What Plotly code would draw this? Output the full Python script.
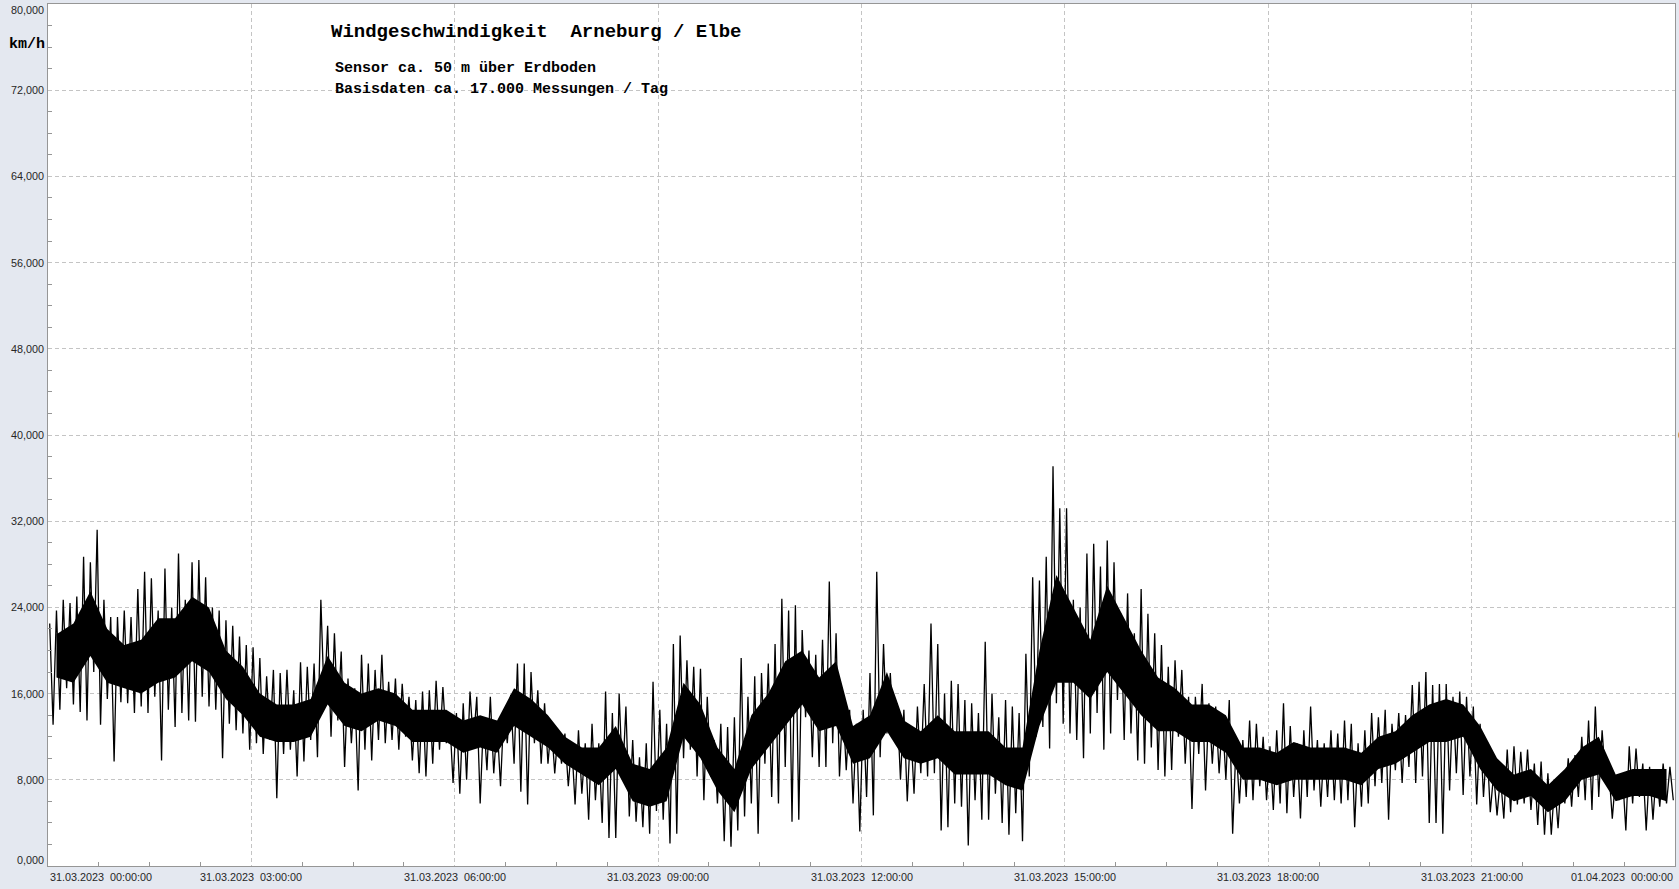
import pandas as pd
import plotly.graph_objects as go

# ---------------- data (km/h) ----------------
# upper / lower extremes of the wind-speed trace, one value per 6-minute bin,
# one row per hour (00:00 ... 23:00) of 31.03.2023
wind_high = [
    22.5, 23.7, 24.7, 24.4, 25.0, 28.7, 28.2, 31.2, 24.7, 23.1,
    23.1, 23.7, 23.1, 25.7, 27.3, 26.7, 23.7, 27.6, 24.0, 29.0,
    24.7, 28.2, 28.4, 26.8, 24.0, 23.7, 22.8, 22.3, 21.3, 20.5,
    20.3, 19.3, 17.6, 18.2, 17.9, 18.2, 16.3, 18.9, 18.5, 18.8,
    24.7, 22.3, 21.6, 19.9, 17.4, 16.5, 19.6, 18.8, 18.2, 19.6,
    17.1, 17.4, 16.9, 15.7, 15.4, 16.2, 16.3, 17.2, 16.6, 13.8,
    14.2, 15.1, 16.2, 15.7, 13.8, 15.7, 13.2, 14.5, 15.9, 18.8,
    18.8, 18.0, 16.3, 15.1, 13.2, 12.6, 12.3, 11.4, 12.6, 11.4,
    13.2, 11.4, 16.2, 14.2, 16.0, 14.8, 11.7, 10.1, 11.4, 17.1,
    14.5, 13.2, 20.6, 21.4, 19.1, 18.5, 18.3, 15.7, 11.7, 13.2,
    12.9, 13.8, 19.3, 15.7, 17.6, 17.9, 18.8, 20.6, 24.8, 23.7,
    24.2, 21.9, 20.0, 19.6, 21.0, 26.4, 21.6, 15.1, 14.5, 13.2,
    14.5, 17.9, 27.3, 20.6, 17.9, 15.1, 14.5, 12.9, 14.8, 16.9,
    22.5, 20.6, 16.0, 17.2, 16.9, 15.4, 15.1, 14.2, 20.8, 16.0,
    13.8, 15.4, 14.8, 14.2, 19.7, 26.8, 26.5, 28.7, 37.1, 33.2,
    33.2, 24.7, 24.0, 29.0, 29.9, 27.8, 30.2, 28.2, 23.4, 25.3,
    21.6, 25.7, 23.4, 21.6, 20.5, 18.5, 19.1, 18.2, 15.7, 15.7,
    16.9, 15.1, 14.8, 13.8, 15.4, 11.4, 11.7, 13.5, 13.2, 12.0,
    11.1, 12.6, 15.1, 13.0, 11.4, 12.6, 14.8, 11.7, 11.4, 12.6,
    12.3, 13.5, 13.2, 11.4, 12.6, 14.2, 13.8, 14.5, 13.2, 14.2,
    14.0, 16.8, 17.1, 18.0, 16.8, 16.9, 16.9, 15.7, 16.2, 15.7,
    14.8, 13.2, 11.4, 8.6, 8.3, 10.8, 11.1, 10.6, 10.8, 9.5,
    9.7, 8.6, 7.7, 8.6, 10.0, 10.3, 12.0, 13.5, 14.8, 12.6,
    8.9, 8.3, 8.6, 11.1, 10.9, 9.5, 9.2, 8.9, 9.5, 9.2,
]
wind_low = [
    13.1, 14.5, 16.5, 15.0, 14.3, 13.5, 18.0, 13.1, 15.5, 9.7,
    15.2, 15.1, 14.2, 14.8, 14.2, 15.7, 9.8, 14.5, 12.9, 14.2,
    13.5, 13.4, 15.7, 14.8, 14.5, 10.0, 13.2, 12.6, 12.3, 10.8,
    11.4, 10.4, 11.7, 6.3, 10.4, 10.8, 8.3, 9.7, 11.7, 10.1,
    15.1, 12.0, 13.5, 9.2, 11.4, 7.0, 10.8, 9.8, 11.7, 11.4,
    11.7, 10.8, 12.0, 9.8, 8.6, 8.3, 9.5, 10.8, 11.4, 7.7,
    6.7, 8.0, 11.4, 5.8, 8.9, 8.6, 7.4, 11.4, 9.5, 6.9,
    5.7, 11.4, 9.5, 9.5, 8.6, 9.5, 7.4, 5.7, 6.7, 4.3,
    6.1, 4.0, 2.6, 2.6, 8.0, 4.6, 4.1, 3.6, 3.0, 5.1,
    4.3, 2.1, 3.0, 10.0, 10.8, 8.3, 6.1, 8.3, 5.8, 2.3,
    1.8, 3.3, 4.6, 5.8, 3.0, 9.5, 6.4, 5.8, 9.2, 4.1,
    4.3, 13.8, 10.1, 9.2, 9.2, 11.4, 8.3, 8.9, 5.8, 3.2,
    6.4, 4.7, 10.1, 12.3, 11.7, 8.0, 6.0, 6.7, 8.6, 8.3,
    8.6, 3.3, 3.6, 5.8, 5.5, 1.9, 6.1, 4.3, 4.3, 6.7,
    4.0, 2.9, 4.9, 2.3, 8.3, 12.0, 12.9, 10.9, 15.1, 13.2,
    12.3, 11.7, 10.0, 12.3, 14.2, 10.8, 12.3, 15.4, 11.7, 12.3,
    9.8, 9.5, 11.0, 8.9, 8.3, 8.9, 12.0, 9.5, 5.3, 10.4,
    7.0, 9.5, 8.6, 8.0, 3.0, 5.8, 6.4, 6.1, 7.4, 6.1,
    5.2, 5.8, 4.9, 6.4, 4.4, 6.4, 7.0, 5.5, 6.4, 6.1,
    5.8, 6.1, 3.6, 5.5, 5.8, 7.4, 7.7, 4.3, 8.9, 7.7,
    9.2, 7.7, 8.3, 4.0, 4.0, 3.0, 7.0, 8.6, 6.6, 8.3,
    5.7, 6.4, 5.0, 4.7, 4.4, 5.0, 5.7, 5.8, 5.2, 3.8,
    2.9, 2.9, 3.5, 5.8, 5.5, 6.4, 6.1, 5.2, 6.4, 8.0,
    4.4, 6.1, 3.3, 5.8, 6.4, 3.3, 4.3, 5.5, 5.8, 6.1,
]
bin_start = "2023-03-31 00:00"
bin_minutes = 6

# dense core of the trace (where the measurements overlap to solid black),
# one value per 15-minute bin, one row per hour
core_top = [21.5, 22.5, 25.5, 22.0,  20.5, 21.0, 23.0, 23.0,
            25.0, 24.0, 20.0, 18.5,  16.0, 15.0, 15.0, 15.5,
            19.5, 17.0, 16.0, 16.5,  16.0, 14.5, 14.5, 14.5,
            13.5, 14.0, 13.5, 16.5,  15.5, 14.0, 12.0, 11.0,
            11.0, 13.0, 9.5, 9.0,    11.0, 17.0, 15.0, 11.0,
            9.0, 14.0, 16.0, 19.0,   20.0, 17.5, 19.0, 13.0,
            14.0, 18.0, 13.5, 12.5,  14.0, 12.5, 12.5, 12.5,
            11.0, 11.0, 20.0, 27.0,  24.0, 21.0, 26.0, 23.0,
            20.0, 17.5, 16.5, 15.0,  15.0, 14.0, 11.0, 11.0,
            10.5, 11.5, 11.0, 11.0,  11.0, 10.5, 12.0, 12.5,
            14.0, 15.0, 15.5, 15.0,  13.0, 10.0, 8.5, 9.0,
            7.5, 9.0, 11.0, 12.0,    8.5, 9.0, 9.0, 9.0]
core_bottom = [17.5, 17.0, 19.5, 17.0,  16.5, 16.0, 17.0, 17.5,
               19.0, 18.0, 15.5, 14.0,  12.0, 11.5, 11.5, 12.0,
               15.0, 13.0, 12.5, 13.5,  13.0, 11.5, 11.5, 11.5,
               10.5, 11.0, 10.5, 13.0,  12.0, 11.0, 9.5, 8.5,
               7.5, 9.0, 6.0, 5.5,      6.0, 12.0, 10.0, 7.0,
               5.0, 9.0, 11.0, 13.0,    15.0, 12.5, 13.0, 9.5,
               10.0, 12.5, 10.0, 9.5,   10.0, 8.5, 8.5, 8.5,
               7.5, 7.0, 13.0, 17.0,    17.0, 15.5, 18.0, 16.0,
               14.0, 12.5, 12.5, 11.5,  11.5, 10.5, 8.0, 8.0,
               7.5, 8.0, 8.0, 8.0,      8.0, 7.5, 9.0, 9.5,
               10.5, 11.5, 11.5, 12.0,  9.0, 7.0, 6.0, 6.5,
               5.0, 6.0, 8.0, 8.5,      6.0, 6.5, 6.5, 6.0]
core_minutes = 15

x_tick_times = ["2023-03-31 00:00", "2023-03-31 03:00", "2023-03-31 06:00",
                "2023-03-31 09:00", "2023-03-31 12:00", "2023-03-31 15:00",
                "2023-03-31 18:00", "2023-03-31 21:00", "2023-04-01 00:00"]
x_tick_labels = ["31.03.2023\u00a0\u00a000:00:00", "31.03.2023\u00a0\u00a003:00:00",
                 "31.03.2023\u00a0\u00a006:00:00", "31.03.2023\u00a0\u00a009:00:00",
                 "31.03.2023\u00a0\u00a012:00:00", "31.03.2023\u00a0\u00a015:00:00",
                 "31.03.2023\u00a0\u00a018:00:00", "31.03.2023\u00a0\u00a021:00:00",
                 "01.04.2023\u00a0\u00a000:00:00"]
y_tick_vals = [0, 8, 16, 24, 32, 40, 48, 56, 64, 72, 80]
y_tick_labels = ["0,000", "8,000", "16,000", "24,000", "32,000", "40,000",
                 "48,000", "56,000", "64,000", "72,000", "80,000"]

title_text = "Windgeschwindigkeit\u00a0\u00a0Arneburg / Elbe"
sub1_text = "Sensor ca. 50 m über Erdboden"
sub2_text = "Basisdaten ca. 17.000 Messungen / Tag"
unit_text = "km/h"

# ---------------- build traces ----------------
starts = pd.date_range(bin_start, periods=len(wind_high), freq=f"{bin_minutes}min")
xs, ys = [], []
for t, hi, lo in zip(starts, wind_high, wind_low):
    xs.append(t + pd.Timedelta(minutes=bin_minutes * 0.25))
    ys.append(hi)
    xs.append(t + pd.Timedelta(minutes=bin_minutes * 0.75))
    ys.append(lo)

core_t = list(pd.date_range(bin_start, periods=len(core_top), freq=f"{core_minutes}min")
              + pd.Timedelta(minutes=core_minutes / 2))
core_x = core_t + core_t[::-1]
core_y = list(core_top) + list(core_bottom)[::-1]

W, H = 1679, 889
ML, MR, MT, MB = 48, 4, 4, 23
PW, PH = W - ML - MR, H - MT - MB


def px_x(px):
    return (px - ML) / PW


def px_y(py):
    return (H - MB - py) / PH


fig = go.Figure()
fig.add_trace(go.Scatter(x=core_x, y=core_y, mode="lines", fill="toself",
                         fillcolor="#000000", line=dict(color="#000000", width=0),
                         hoverinfo="skip", showlegend=False))
fig.add_trace(go.Scatter(x=xs, y=ys, mode="lines",
                         line=dict(color="#000000", width=1.3),
                         hoverinfo="skip", showlegend=False))

axis_col = "#969696"
grid_col = "#c4c4c4"
fig.update_layout(
    width=W, height=H,
    margin=dict(l=ML, r=MR, t=MT, b=MB, pad=0),
    paper_bgcolor="#e4e8f0",
    plot_bgcolor="#ffffff",
    separators=",.",
    showlegend=False,
    xaxis=dict(
        type="date",
        range=[x_tick_times[0], x_tick_times[-1]],
        tick0=x_tick_times[0], dtick=3 * 3600 * 1000,
        showticklabels=False, ticks="",
        showgrid=True, gridcolor=grid_col, gridwidth=1, griddash="4px,3px",
        showline=True, linecolor=axis_col, linewidth=1, mirror=True,
        zeroline=False,
        minor=dict(dtick=45 * 60 * 1000, ticks="inside", ticklen=4,
                   tickcolor=axis_col, showgrid=False),
    ),
    yaxis=dict(
        range=[0, 80], tick0=0, dtick=8,
        showticklabels=False, ticks="",
        showgrid=True, gridcolor=grid_col, gridwidth=1, griddash="4px,3px",
        showline=True, linecolor=axis_col, linewidth=1, mirror=True,
        zeroline=False,
        minor=dict(dtick=2, ticks="inside", ticklen=4,
                   tickcolor=axis_col, showgrid=False),
    ),
)

# white boxes behind the title texts (hide the gridlines there)
for (x0, x1, y0, y1) in [(317, 750, 7, 50), (317, 750, 58, 100)]:
    fig.add_shape(type="rect", xref="paper", yref="paper", layer="between",
                  x0=px_x(x0), x1=px_x(x1), y0=px_y(y1), y1=px_y(y0),
                  fillcolor="#ffffff", line=dict(width=0))

ann = []
lab_font = dict(family="Liberation Sans, Arial", size=10.8, color="#262626")
n = len(x_tick_times)
for i, (t, lab) in enumerate(zip(x_tick_times, x_tick_labels)):
    anchor = "left" if i == 0 else ("right" if i == n - 1 else "center")
    ann.append(dict(x=t, xref="x", y=0, yref="paper", text=lab, showarrow=False,
                    xanchor=anchor, yanchor="middle", yshift=-10.5, font=lab_font))
m = len(y_tick_vals)
for i, (v, lab) in enumerate(zip(y_tick_vals, y_tick_labels)):
    ys_ = 6 if i == 0 else (-6 if i == m - 1 else 0)
    ann.append(dict(x=0, xref="paper", y=v, yref="y", text=lab, showarrow=False,
                    xanchor="right", yanchor="middle", xshift=-2, yshift=ys_,
                    font=lab_font))

mono = "Liberation Mono, Courier New, monospace"
ann.append(dict(x=px_x(329), y=px_y(31.5), xref="paper", yref="paper",
                text=title_text, showarrow=False, xanchor="left", yanchor="middle",
                font=dict(family=mono, size=19, color="#000000", weight="bold")))
ann.append(dict(x=px_x(333), y=px_y(69), xref="paper", yref="paper",
                text=sub1_text, showarrow=False, xanchor="left", yanchor="middle",
                font=dict(family=mono, size=15, color="#000000", weight="bold")))
ann.append(dict(x=px_x(333), y=px_y(89.5), xref="paper", yref="paper",
                text=sub2_text, showarrow=False, xanchor="left", yanchor="middle",
                font=dict(family=mono, size=15, color="#000000", weight="bold")))
ann.append(dict(x=px_x(7), y=px_y(44), xref="paper", yref="paper",
                text=unit_text, showarrow=False, xanchor="left", yanchor="middle",
                font=dict(family=mono, size=15, color="#000000", weight="bold")))
ann.append(dict(x=px_x(1676), y=40, xref="paper", yref="y", text="6",
                showarrow=False, xanchor="left", yanchor="middle", font=lab_font))
fig.update_layout(annotations=ann)

fig.write_html("out.html", config={"displayModeBar": False},
               post_script="document.body.style.margin='0';document.body.style.overflow='hidden';")
